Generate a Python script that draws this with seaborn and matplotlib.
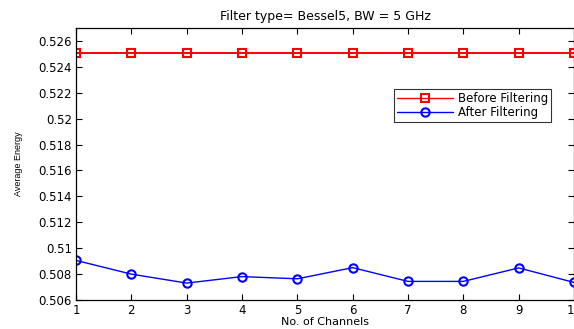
import numpy as np
import pandas as pd
import seaborn as sns
import matplotlib
matplotlib.use("Agg")
import matplotlib.pyplot as plt

channels = [1, 2, 3, 4, 5, 6, 7, 8, 9, 10]
before_filtering = [0.5251] * 10
after_filtering = [0.50906, 0.5080, 0.50731, 0.50781, 0.50764,
                   0.50850, 0.50744, 0.50744, 0.50848, 0.50736]
y_ticks = [0.506, 0.508, 0.51, 0.512, 0.514, 0.516, 0.518, 0.52, 0.522, 0.524, 0.526]
y_tick_labels = ["0.506", "0.508", "0.51", "0.512", "0.514", "0.516",
                 "0.518", "0.52", "0.522", "0.524", "0.526"]

df = pd.DataFrame({
    "channels": channels * 2,
    "energy": before_filtering + after_filtering,
    "series": ["Before Filtering"] * 10 + ["After Filtering"] * 10,
})

sns.set_theme(style="white")
plt.rcParams["font.family"] = ["DejaVu Sans"]
plt.rcParams["text.color"] = "black"
plt.rcParams["axes.labelcolor"] = "black"

fig = plt.figure(figsize=(5.74, 3.29), dpi=100)
ax = fig.add_axes([0.1324, 0.088, 0.8676, 0.827])

sns.lineplot(data=df, x="channels", y="energy", hue="series", style="series",
             palette={"Before Filtering": "#ff0000", "After Filtering": "#0000ff"},
             markers={"Before Filtering": "s", "After Filtering": "o"},
             dashes=False, linewidth=1.0, markersize=6, markeredgewidth=1.5,
             ax=ax)

# open markers, like matlab
for line in ax.get_lines():
    line.set_markerfacecolor("none")
    line.set_markeredgecolor(line.get_color())
ax.get_lines()[0].set_linewidth(1.4)

ax.set_xlim(1, 10)
ax.set_ylim(0.506, 0.527)
ax.set_xticks(channels)
ax.set_yticks(y_ticks)
ax.set_yticklabels(y_tick_labels)
ax.tick_params(direction="in", length=4, width=0.8, labelsize=8.5, colors="black",
               top=True, right=True, bottom=True, left=True, pad=3)
for s in ax.spines.values():
    s.set_color("black")
    s.set_linewidth(0.9)

ax.set_xlabel("No. of Channels", fontsize=8, labelpad=0, color="black")
ax.set_ylabel("Average Energy", fontsize=6.5, labelpad=11, color="black",
              family=["Liberation Sans", "DejaVu Sans"])
ax.set_title("Filter type= Bessel5, BW = 5 GHz", fontsize=9, pad=6, color="black")

leg = ax.legend(loc="upper right", bbox_to_anchor=(0.954, 0.776), fontsize=8.5,
                frameon=True, fancybox=False, edgecolor="black", borderaxespad=0,
                borderpad=0.25, labelspacing=0.1, handlelength=4.8, handletextpad=0.4)
leg.get_frame().set_linewidth(0.8)
for h in leg.get_lines():
    h.set_markerfacecolor("none")
for t in leg.get_texts():
    t.set_color("black")

fig.savefig("out.png", dpi=100, facecolor="white")
